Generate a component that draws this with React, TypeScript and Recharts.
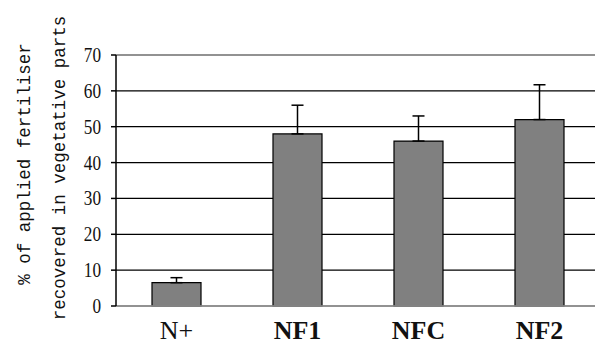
import { BarChart, Bar, XAxis, YAxis, CartesianGrid, ErrorBar, ReferenceLine } from 'recharts'

const categories = ['N+', 'NF1', 'NFC', 'NF2']
const recovered = [6.5, 48, 46, 52]
const errUp = [1.4, 8, 7, 9.7]
const yTicks = [0, 10, 20, 30, 40, 50, 60, 70]
const yLabelLines = ['% of applied fertiliser', 'recovered in vegetative parts']

const data = categories.map((name, i) => ({
  name,
  value: recovered[i],
  err: [0, errUp[i]],
}))

const regularLabels = new Set(['N+'])

function YTick(props: any) {
  const { x, y, payload } = props
  const s = String(payload.value)
  return (
    <text
      x={x}
      y={y}
      textAnchor="end"
      dominantBaseline="central"
      fontFamily="'Liberation Serif', serif"
      fontSize={20}
      fill="#111"
      textLength={s.length * 8.6}
      lengthAdjust="spacingAndGlyphs"
    >
      {s}
    </text>
  )
}

function XTick(props: any) {
  const { x, payload } = props
  // baseline sits just above the bottom edge
  return (
    <text
      x={x}
      y={339}
      textAnchor="middle"
      fontFamily="'Liberation Serif', serif"
      fontSize={26}
      fontWeight={regularLabels.has(payload.value) ? 'normal' : 'bold'}
      fill="#111"
    >
      {payload.value}
    </text>
  )
}

function YTitle() {
  return (
    <g fontFamily="'Liberation Mono', monospace" fontSize={17.5} fill="#111">
      <text x={25} y={164} textAnchor="middle" dominantBaseline="central" transform="rotate(-90 25 164)">
        {yLabelLines[0]}
      </text>
      <text x={60} y={168} textAnchor="middle" dominantBaseline="central" transform="rotate(-90 60 168)">
        {yLabelLines[1]}
      </text>
    </g>
  )
}

export default function App() {
  return (
    <div style={{ position: 'absolute', left: 0, top: 0, width: 595, height: 346, background: '#fff', overflow: 'hidden' }}>
      <BarChart width={595} height={346} data={data} margin={{ top: 55, right: -5, left: 0, bottom: 0 }}>
        <CartesianGrid vertical={false} stroke="#000" strokeWidth={1.2} />
        <ReferenceLine y={70} stroke="#999" strokeWidth={1.5} />
        <XAxis
          dataKey="name"
          height={40}
          tick={<XTick />}
          tickLine={false}
          axisLine={{ stroke: '#999', strokeWidth: 1.5 }}
        />
        <YAxis
          width={116}
          domain={[0, 70]}
          ticks={yTicks}
          interval={0}
          tick={<YTick />}
          tickSize={5}
          tickMargin={10}
          tickLine={{ stroke: '#000', strokeWidth: 1.5 }}
          axisLine={{ stroke: '#000', strokeWidth: 1.5 }}
          label={{ content: <YTitle /> }}
        />
        <Bar dataKey="value" fill="#808080" stroke="#000" strokeWidth={1.2} barSize={49} isAnimationActive={false}>
          <ErrorBar dataKey="err" width={6} stroke="#000" strokeWidth={1.5} direction="y" />
        </Bar>
      </BarChart>
    </div>
  )
}
